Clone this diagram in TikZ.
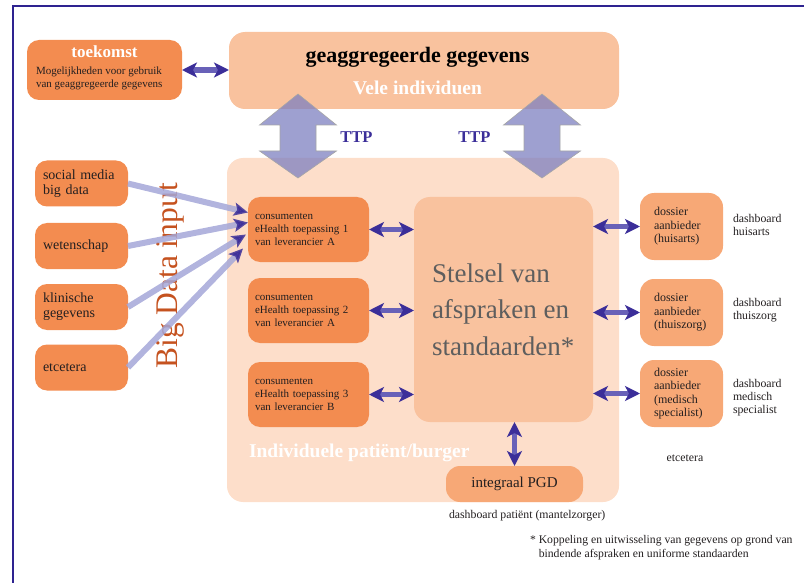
\documentclass[tikz,border=0pt]{standalone}
\usepackage{fontspec}
\setmainfont{Liberation Serif}
\usetikzlibrary{arrows.meta,calc}
\definecolor{dorange}{HTML}{F38C50}
\definecolor{morange}{HTML}{F7A876}
\definecolor{lorange}{HTML}{F9C29E}
\definecolor{bgpeach}{HTML}{FDDECA}
\definecolor{navy}{HTML}{3B2E99}
\definecolor{shaftc}{HTML}{6861B8}
\definecolor{bdshaft}{HTML}{A4A7D8}
\definecolor{ttpfill}{HTML}{7E80C0}
\definecolor{framec}{HTML}{2E2390}
\definecolor{bigdata}{HTML}{C5521F}
\definecolor{ink}{HTML}{231F20}
\definecolor{stelc}{HTML}{5E5E5E}
\tikzset{
  dtip/.tip={Stealth[length=15pt,width=15pt,inset=4pt,color=navy]},
  btip/.tip={Stealth[length=14pt,width=13pt,inset=3pt,color=navy]},
}
\begin{document}
\begin{tikzpicture}[x=1pt,y=-1pt,
  every node/.style={inner sep=0pt, outer sep=0pt},
  darkbox/.style={fill=dorange, rounded corners=12pt, text=ink},
  midbox/.style={fill=morange, rounded corners=14pt, text=ink},
  lightbox/.style={fill=lorange, rounded corners=16pt},
  leftbox/.style={darkbox, minimum width=93, minimum height=46, text width=77, inner xsep=8, align=left, font=\fontsize{14}{15}\selectfont},
  consbox/.style={darkbox, minimum height=65, text width=107, inner xsep=7, align=left, font=\fontsize{11}{13}\selectfont},
  dosbox/.style={midbox, minimum height=67, text width=55, inner xsep=14, align=left, font=\fontsize{12}{13.5}\selectfont},
  dbl/.style={line width=5.5pt, draw=shaftc, dtip-dtip},
  bdarrow/.style={line width=6pt, draw=bdshaft, opacity=0.85, -btip},
  small/.style={font=\fontsize{11.8}{12.8}\selectfont, text=ink, align=left},
  ttp/.style={fill=ttpfill, fill opacity=0.75, draw=gray!70, line width=0.6pt},
  ttplabel/.style={font=\fontsize{16.5}{16.5}\selectfont\bfseries, text=navy, anchor=base},
]
\useasboundingbox (0,0) rectangle (804,583);
% frame
\draw[framec, line width=1.5pt] (804,6) -- (13,6) -- (13,583);

% background areas
\node[fill=bgpeach, rounded corners=16pt, minimum width=392, minimum height=344] (bg) at (423,330) {};
\node[lightbox, minimum width=390, minimum height=77] (geagg) at (424,70.5) {};
\node[font=\fontsize{22}{22}\selectfont\bfseries, text=black, anchor=base] (geaggT) at (417.5,63) {geaggregeerde gegevens};
\node[font=\fontsize{19.5}{19.5}\selectfont\bfseries, text=white, anchor=base] (geaggB) at (417.5,95) {Vele individuen};

% toekomst
\node[darkbox, minimum width=155, minimum height=60] (toek) at (104.5,70) {};
\node[font=\fontsize{17}{17}\selectfont\bfseries, text=white, anchor=base] (toekT) at (104.5,58) {toekomst};
\node[font=\fontsize{11}{12.5}\selectfont, text=ink, anchor=west, align=left] (toekB) at (36,78.6) {Mogelijkheden voor gebruik\\van geaggregeerde gegevens};

% TTP arrows
\foreach \cx in {298,542} {
  \filldraw[ttp] (\cx,94) -- (\cx+38.5,125) -- (\cx+18,125) -- (\cx+18,151) -- (\cx+38.5,151) -- (\cx,178) -- (\cx-38.5,151) -- (\cx-18,151) -- (\cx-18,125) -- (\cx-38.5,125) -- cycle;
}
\node[ttplabel] (ttp1) at (356.5,143) {TTP};
\node[ttplabel] (ttp2) at (474.5,143) {TTP};

% Stelsel
\node[lightbox, minimum width=179, minimum height=225] (stel) at (503.5,309.5) {};
\node[anchor=west, align=left, text=stelc, font=\fontsize{27}{36.5}\selectfont] (stelT) at (432,309.5) {Stelsel van\\afspraken en\\standaarden*};

% consumenten boxes
\node[consbox] (cons1) at (308.5,229.5) {consumenten\\eHealth toepassing 1\\van leverancier A};
\node[consbox] (cons2) at (308.5,310.5) {consumenten\\eHealth toepassing 2\\van leverancier A};
\node[consbox] (cons3) at (308.5,394.5) {consumenten\\eHealth toepassing 3\\van leverancier B};

% dossier boxes
\node[dosbox] (dos1) at (681.5,226.5) {dossier\\aanbieder\\(huisarts)};
\node[dosbox] (dos2) at (681.5,312.5) {dossier\\aanbieder\\(thuiszorg)};
\node[dosbox] (dos3) at (681.5,393.5) {dossier\\aanbieder\\(medisch\\specialist)};

\node[small, anchor=west] (dash1) at (733,224.7) {dashboard\\huisarts};
\node[small, anchor=west] (dash2) at (733,310.5) {dashboard\\thuiszorg};
\node[small, anchor=west] (dash3) at (733,397.5) {dashboard\\medisch\\specialist};
\node[small] (etcR) at (685,458) {etcetera};

% PGD
\node[midbox, minimum width=137, minimum height=36, font=\fontsize{15}{15}\selectfont] (pgd) at (514.5,484) {integraal PGD};
\node[small, anchor=west] (dashP) at (449,516) {dashboard patiënt (mantelzorger)};
\node[font=\fontsize{19.5}{19.5}\selectfont\bfseries, text=white, anchor=base west] (indiv) at (249,457) {Individuele patiënt/burger};

% footnote
\node[font=\fontsize{11.7}{14}\selectfont, text=ink, anchor=west, align=left] (foot) at (530,547.3) {* Koppeling en uitwisseling van gegevens op grond van\\\hphantom{*\ }bindende afspraken en uniforme standaarden};

% left boxes
\node[leftbox] (soc) at (81.5,183.5) {social media\\big data};
\node[leftbox] (wet) at (81.5,246) {wetenschap};
\node[leftbox] (kli) at (81.5,307) {klinische\\gegevens};
\node[leftbox] (etcL) at (81.5,367.5) {etcetera};

% Big Data input
\node[rotate=90, font=\fontsize{31.5}{31.5}\selectfont, text=bigdata] (bigd) at (170,276) {Big Data input};

% big data arrows
\draw[bdarrow] (soc.east) -- ($(cons1.west)+(0,-17)$);
\draw[bdarrow] (wet.east) -- ($(cons1.west)+(0,-7)$);
\draw[bdarrow] (kli.east) -- ($(cons1.west)+(-2,5)$);
\draw[bdarrow] (etcL.east) -- ($(cons1.west)+(-5,19)$);

% double arrows
\draw[dbl] (toek.east) -- (toek.east -| geagg.west);
\draw[dbl] (cons1.east) -- (cons1.east -| stel.west);
\draw[dbl] (cons2.east) -- (cons2.east -| stel.west);
\draw[dbl] (cons3.east) -- (cons3.east -| stel.west);
\draw[dbl] (stel.east |- dos1.west) -- (dos1.west);
\draw[dbl] (stel.east |- dos2.west) -- (dos2.west);
\draw[dbl] (stel.east |- dos3.west) -- (dos3.west);
\draw[dbl] (stel.south -| pgd.north) -- (pgd.north);
\end{tikzpicture}
\end{document}
